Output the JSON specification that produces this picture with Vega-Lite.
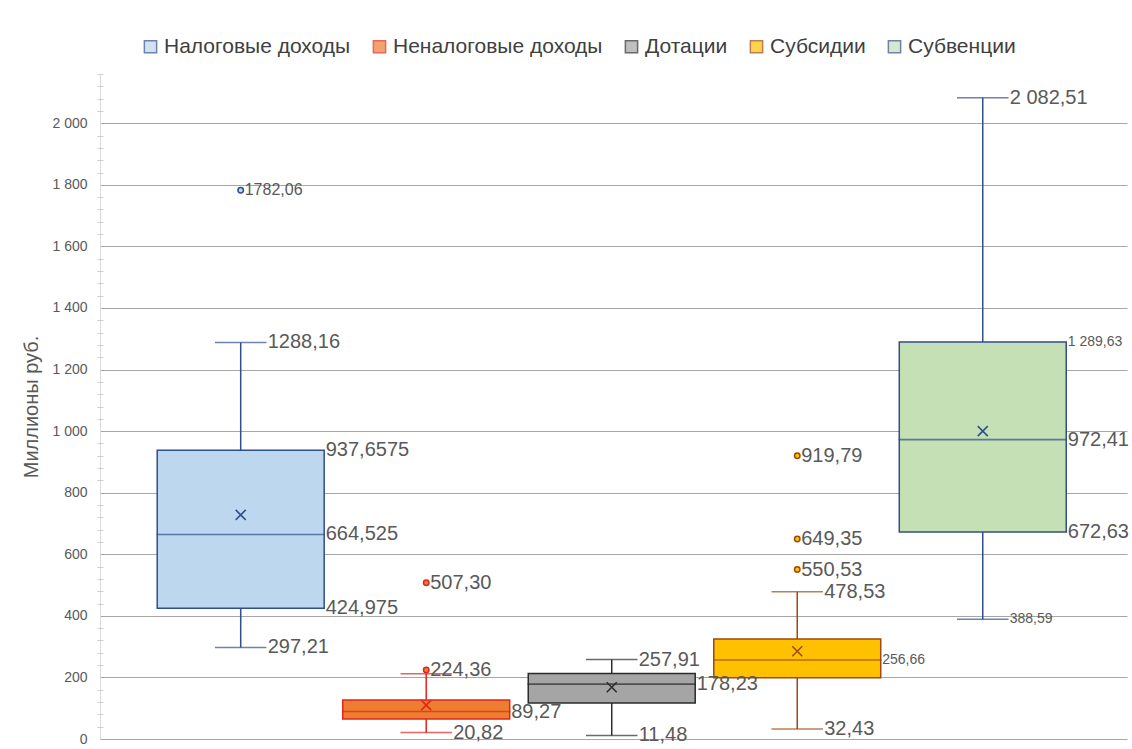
{
  "$schema": "https://vega.github.io/schema/vega-lite/v6.json",
  "width": 1027,
  "height": 665,
  "autosize": {"type": "none"},
  "padding": {"left": 100, "top": 74, "right": 5, "bottom": 10},
  "background": "white",
  "config": {
    "view": {"stroke": null},
    "font": "Liberation Sans"
  },
  "resolve": {"axis": {"y": "independent"}},
  "datasets": {
    "boxes": [
      {"cat": "Налоговые доходы", "lower": 297.21, "q1": 424.975, "median": 664.525, "q3": 937.6575, "upper": 1288.16, "mean": 728},
      {"cat": "Неналоговые доходы", "lower": 20.82, "q1": 65, "median": 89.27, "q3": 127, "upper": 212, "mean": 110},
      {"cat": "Дотации", "lower": 11.48, "q1": 117, "median": 178.23, "q3": 213, "upper": 257.91, "mean": 168},
      {"cat": "Субсидии", "lower": 32.43, "q1": 199, "median": 256.66, "q3": 325, "upper": 478.53, "mean": 285},
      {"cat": "Субвенции", "lower": 388.59, "q1": 672.63, "median": 972.41, "q3": 1289.63, "upper": 2082.51, "mean": 1000}
    ],
    "outliers": [
      {"cat": "Налоговые доходы", "value": 1782.06},
      {"cat": "Неналоговые доходы", "value": 507.30},
      {"cat": "Неналоговые доходы", "value": 224.36},
      {"cat": "Субсидии", "value": 919.79},
      {"cat": "Субсидии", "value": 649.35},
      {"cat": "Субсидии", "value": 550.53}
    ],
    "labels": [
      {"cat": "Налоговые доходы", "value": 1782.06, "text": "1782,06", "kind": "outlier-small"},
      {"cat": "Налоговые доходы", "value": 1288.16, "text": "1288,16", "kind": "whisker"},
      {"cat": "Налоговые доходы", "value": 937.6575, "text": "937,6575", "kind": "box"},
      {"cat": "Налоговые доходы", "value": 664.525, "text": "664,525", "kind": "box"},
      {"cat": "Налоговые доходы", "value": 424.975, "text": "424,975", "kind": "box"},
      {"cat": "Налоговые доходы", "value": 297.21, "text": "297,21", "kind": "whisker"},
      {"cat": "Неналоговые доходы", "value": 507.30, "text": "507,30", "kind": "outlier"},
      {"cat": "Неналоговые доходы", "value": 224.36, "text": "224,36", "kind": "outlier"},
      {"cat": "Неналоговые доходы", "value": 89.27, "text": "89,27", "kind": "box"},
      {"cat": "Неналоговые доходы", "value": 20.82, "text": "20,82", "kind": "whisker"},
      {"cat": "Дотации", "value": 257.91, "text": "257,91", "kind": "whisker"},
      {"cat": "Дотации", "value": 178.23, "text": "178,23", "kind": "box"},
      {"cat": "Дотации", "value": 11.48, "text": "11,48", "kind": "whisker"},
      {"cat": "Субсидии", "value": 919.79, "text": "919,79", "kind": "outlier"},
      {"cat": "Субсидии", "value": 649.35, "text": "649,35", "kind": "outlier"},
      {"cat": "Субсидии", "value": 550.53, "text": "550,53", "kind": "outlier"},
      {"cat": "Субсидии", "value": 478.53, "text": "478,53", "kind": "whisker"},
      {"cat": "Субсидии", "value": 256.66, "text": "256,66", "kind": "box-small"},
      {"cat": "Субсидии", "value": 32.43, "text": "32,43", "kind": "whisker"},
      {"cat": "Субвенции", "value": 2082.51, "text": "2 082,51", "kind": "whisker"},
      {"cat": "Субвенции", "value": 1289.63, "text": "1 289,63", "kind": "box-small"},
      {"cat": "Субвенции", "value": 972.41, "text": "972,41", "kind": "box"},
      {"cat": "Субвенции", "value": 672.63, "text": "672,63", "kind": "box"},
      {"cat": "Субвенции", "value": 388.59, "text": "388,59", "kind": "whisker-small"}
    ]
  },
  "encoding": {
    "x": {
      "field": "cat",
      "type": "nominal",
      "sort": ["Налоговые доходы", "Неналоговые доходы", "Дотации", "Субсидии", "Субвенции"],
      "scale": {"domain": ["Налоговые доходы", "Неналоговые доходы", "Дотации", "Субсидии", "Субвенции"], "paddingInner": 0.1, "paddingOuter": 0.318, "align": 0.485},
      "axis": null
    }
  },
  "layer": [
    {
      "data": {"name": "boxes"},
      "mark": {"type": "rule", "strokeWidth": 1.5},
      "encoding": {
        "y": {
          "field": "lower", "type": "quantitative",
          "scale": {"domain": [0, 2160], "nice": false, "zero": true},
          "title": "Миллионы руб.",
          "axis": {
            "orient": "left",
            "values": [0, 200, 400, 600, 800, 1000, 1200, 1400, 1600, 1800, 2000],
            "labelExpr": "replace(format(datum.value, ','), ',', ' ')",
            "labelFontSize": 14,
            "labelColor": "#595959",
            "labelPadding": 13,
            "ticks": false,
            "domainColor": "#D9D9D9",
            "grid": true,
            "gridColor": "#A6A6A6",
            "gridWidth": 1,
            "titleFontSize": 20,
            "titleFontWeight": "normal",
            "titleColor": "#595959",
            "titlePadding": 10
          }
        },
        "y2": {"field": "upper"},
        "stroke": {
          "field": "cat", "type": "nominal",
          "scale": {"domain": ["Налоговые доходы", "Неналоговые доходы", "Дотации", "Субсидии", "Субвенции"], "range": ["#2F4E8E", "#E3241B", "#2B2B2B", "#9E480E", "#2F4E8E"]},
          "legend": {"orient": "none", "legendX": 40, "legendY": -38, "direction": "horizontal", "columns": 5, "title": null, "symbolType": "square", "symbolSize": 150, "symbolStrokeWidth": 1.5, "labelFontSize": 21, "labelColor": "#404040", "labelOffset": 3, "columnPadding": 18, "labelLimit": 0}
        }
      }
    },
    {
      "data": {"name": "boxes"},
      "mark": {"type": "tick", "size": 50, "thickness": 0.01, "filled": false, "strokeWidth": 1.5},
      "encoding": {
        "y": {
          "field": "lower", "type": "quantitative",
          "axis": {
            "orient": "left",
            "values": [40,80,120,160,240,280,320,360,440,480,520,560,640,680,720,760,840,880,920,960,1040,1080,1120,1160,1240,1280,1320,1360,1440,1480,1520,1560,1640,1680,1720,1760,1840,1880,1920,1960,2040,2080,2120,2160],
            "labels": false,
            "grid": false,
            "domain": false,
            "title": null,
            "tickSize": 6,
            "tickColor": "#D0D0D0",
            "offset": -3
          }
        },
        "stroke": {"field": "cat", "type": "nominal"}
      }
    },
    {
      "data": {"name": "boxes"},
      "mark": {"type": "tick", "size": 50, "thickness": 0.01, "filled": false, "strokeWidth": 1.5},
      "encoding": {
        "y": {"field": "upper", "type": "quantitative", "axis": null},
        "stroke": {"field": "cat", "type": "nominal"}
      }
    },
    {
      "data": {"name": "boxes"},
      "mark": {"type": "bar", "strokeWidth": 1.5},
      "encoding": {
        "y": {"field": "q1", "type": "quantitative", "axis": null},
        "y2": {"field": "q3"},
        "fill": {
          "field": "cat", "type": "nominal",
          "scale": {"domain": ["Налоговые доходы", "Неналоговые доходы", "Дотации", "Субсидии", "Субвенции"], "range": ["#BDD7EE", "#ED7D31", "#A5A5A5", "#FFC000", "#C5E0B4"]},
          "legend": {"orient": "none", "legendX": 40, "legendY": -38, "direction": "horizontal", "columns": 5, "title": null, "symbolType": "square", "symbolSize": 150, "symbolStrokeWidth": 1.5, "labelFontSize": 21, "labelColor": "#404040", "labelOffset": 3, "columnPadding": 18, "labelLimit": 0}
        },
        "stroke": {"field": "cat", "type": "nominal"}
      }
    },
    {
      "data": {"name": "boxes"},
      "mark": {"type": "tick", "size": 167, "thickness": 0.01, "filled": false, "strokeWidth": 1.5},
      "encoding": {
        "y": {"field": "median", "type": "quantitative", "axis": null},
        "stroke": {"field": "cat", "type": "nominal"}
      }
    },
    {
      "data": {"name": "boxes"},
      "mark": {"type": "point", "shape": "M-1,-1L1,1M1,-1L-1,1", "filled": false, "size": 100, "strokeWidth": 1.5, "opacity": 1},
      "encoding": {
        "y": {"field": "mean", "type": "quantitative", "axis": null},
        "stroke": {"field": "cat", "type": "nominal"}
      }
    },
    {
      "data": {"name": "outliers"},
      "mark": {"type": "point", "shape": "circle", "filled": true, "size": 30, "strokeWidth": 1.5, "opacity": 1},
      "encoding": {
        "y": {"field": "value", "type": "quantitative", "axis": null},
        "fill": {"field": "cat", "type": "nominal"},
        "stroke": {"field": "cat", "type": "nominal"}
      }
    },
    {
      "data": {"name": "labels"},
      "transform": [{"filter": "datum.kind === 'whisker'"}],
      "mark": {"type": "text", "align": "left", "baseline": "middle", "dx": 27, "fontSize": 20, "fill": "#595959"},
      "encoding": {"y": {"field": "value", "type": "quantitative", "axis": null}, "text": {"field": "text"}}
    },
    {
      "data": {"name": "labels"},
      "transform": [{"filter": "datum.kind === 'whisker-small'"}],
      "mark": {"type": "text", "align": "left", "baseline": "middle", "dx": 27, "fontSize": 14, "fill": "#595959"},
      "encoding": {"y": {"field": "value", "type": "quantitative", "axis": null}, "text": {"field": "text"}}
    },
    {
      "data": {"name": "labels"},
      "transform": [{"filter": "datum.kind === 'box'"}],
      "mark": {"type": "text", "align": "left", "baseline": "middle", "dx": 85, "fontSize": 20, "fill": "#595959"},
      "encoding": {"y": {"field": "value", "type": "quantitative", "axis": null}, "text": {"field": "text"}}
    },
    {
      "data": {"name": "labels"},
      "transform": [{"filter": "datum.kind === 'box-small'"}],
      "mark": {"type": "text", "align": "left", "baseline": "middle", "dx": 85, "fontSize": 14, "fill": "#595959"},
      "encoding": {"y": {"field": "value", "type": "quantitative", "axis": null}, "text": {"field": "text"}}
    },
    {
      "data": {"name": "labels"},
      "transform": [{"filter": "datum.kind === 'outlier'"}],
      "mark": {"type": "text", "align": "left", "baseline": "middle", "dx": 4, "fontSize": 20, "fill": "#595959"},
      "encoding": {"y": {"field": "value", "type": "quantitative", "axis": null}, "text": {"field": "text"}}
    },
    {
      "data": {"name": "labels"},
      "transform": [{"filter": "datum.kind === 'outlier-small'"}],
      "mark": {"type": "text", "align": "left", "baseline": "middle", "dx": 4, "fontSize": 16, "fill": "#595959"},
      "encoding": {"y": {"field": "value", "type": "quantitative", "axis": null}, "text": {"field": "text"}}
    }
  ]
}
